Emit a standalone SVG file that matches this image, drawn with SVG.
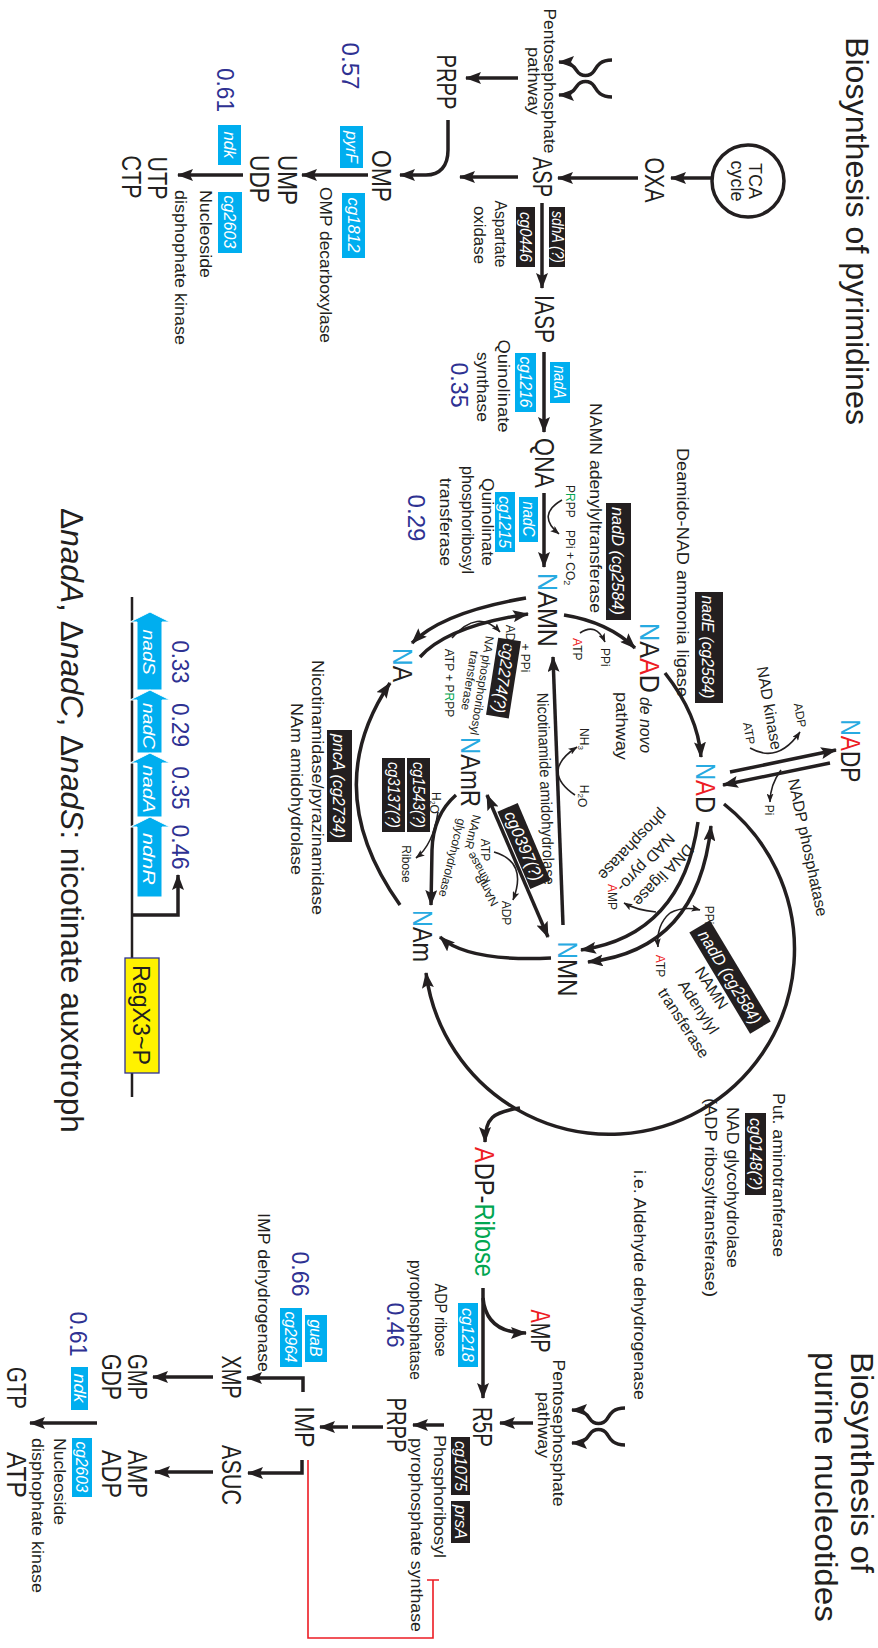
<svg xmlns="http://www.w3.org/2000/svg" width="878" height="1648" viewBox="0 0 878 1648">
<style>
text{font-family:"Liberation Sans",Arial,sans-serif;fill:#231F20;text-anchor:middle}
.m{font-size:27px}
.t{font-size:31px}
.l{font-size:16px}
.s{font-size:12px}
.b{font-size:17px;font-style:italic;fill:#fff}
.v{font-size:24px;fill:#2E3192}
.st{text-anchor:start}
.en{text-anchor:end}
.i{font-style:italic}
.nb{fill:#27AAE1}
.rd{fill:#ED1C24}
.gr{fill:#00A651}
.bx{fill:#231F20}
.cx{fill:#00AEEF}
.ln{fill:none;stroke:#231F20;stroke-width:3.5}
.lt{fill:none;stroke:#231F20;stroke-width:1.6}
</style>
<defs>
<marker id="a" viewBox="0 0 16 12" refX="15" refY="6" markerWidth="16" markerHeight="12" markerUnits="userSpaceOnUse" orient="auto-start-reverse"><path d="M0,0 L16,6 L0,12 L3,6 Z" fill="#231F20"/></marker>
<marker id="s" viewBox="0 0 9 7" refX="8.5" refY="3.5" markerWidth="9" markerHeight="7" markerUnits="userSpaceOnUse" orient="auto"><path d="M0,0 L9,3.5 L0,7 L2,3.5 Z" fill="#231F20"/></marker>
</defs>
<rect width="878" height="1648" fill="#fff"/>
<g transform="translate(878,0) rotate(90)">

<g id="titles">
<text class="t st" x="37" y="32" textLength="388" lengthAdjust="spacingAndGlyphs">Biosynthesis of pyrimidines</text>
<text class="t st" x="1352" y="27" textLength="221" lengthAdjust="spacingAndGlyphs">Biosynthesis of</text>
<text class="t st" x="1352" y="63" textLength="270" lengthAdjust="spacingAndGlyphs">purine nucleotides</text>
<text class="t st" x="508" y="817" textLength="625" lengthAdjust="spacingAndGlyphs">Δ<tspan class="i">nadA</tspan>, Δ<tspan class="i">nadC</tspan>, Δ<tspan class="i">nadS</tspan>: nicotinate auxotroph</text>
</g>

<g id="connectors">
<circle cx="181" cy="130" r="36" class="ln"/>
<path class="ln" marker-end="url(#a)" d="M178,166 L178,207"/>
<path class="ln" marker-end="url(#a)" d="M178,240 L178,320"/>
<path class="ln" marker-end="url(#a)" d="M177,360 L177,418"/>
<path class="ln" marker-end="url(#a)" d="M120,430 L150,430 C166,430 175,438 175,452 L175,478"/>
<path class="ln" marker-end="url(#a)" d="M60,266 C60,278 66,281 71,284 C77,288 77,297 71,301 C65,305 62,308 62,319"/>
<path class="ln" marker-end="url(#a)" d="M97,266 C97,278 91,281 86,284 C80,288 80,297 86,301 C92,305 95,308 95,319"/>
<path class="ln" marker-end="url(#a)" d="M78,360 L78,412"/>
<path class="ln" marker-end="url(#a)" d="M175,510 L175,576"/>
<path class="ln" marker-end="url(#a)" d="M175,635 L175,700"/>
<path class="ln" marker-end="url(#a)" d="M203,336 L288,336"/>
<path class="ln" marker-end="url(#a)" d="M352,334 L432,334"/>
<path class="ln" marker-end="url(#a)" d="M493,334 L567,334"/>
<path class="lt" marker-end="url(#s)" d="M500,316 Q515,342 534,319"/>
<path class="ln" marker-end="url(#a)" d="M615,314 Q622,270 648,243"/>
<path class="lt" marker-end="url(#s)" d="M633,298 Q622,282 642,273"/>
<path class="ln" marker-end="url(#a)" d="M673,213 Q715,180 757,177"/>
<path class="ln" marker-end="url(#a)" d="M772,148 L750,42"/>
<path class="ln" marker-end="url(#a)" d="M763,48 L785,155"/>
<path class="lt" marker-end="url(#s)" d="M748,128 Q764,100 732,78"/>
<path class="lt" marker-end="url(#s)" d="M770,97 Q785,108 802,108"/>
<path class="ln" marker-end="url(#a)" d="M598,352 Q612,435 643,466"/>
<path class="ln" marker-end="url(#a)" d="M657,458 Q626,430 614,350"/>
<path class="lt" marker-end="url(#s)" d="M638,426 Q608,400 632,378"/>
<path class="ln" marker-end="url(#a)" d="M925,315 L657,325"/>
<path class="lt" marker-end="url(#s)" d="M795,303 Q771,338 747,301"/>
<path class="ln" marker-start="url(#a)" marker-end="url(#a)" d="M795,391 L937,330"/>
<path class="lt" marker-end="url(#s)" d="M852,384 Q862,350 900,365"/>
<path class="ln" marker-end="url(#a)" d="M795,422 Q815,445 850,446 L905,447"/>
<path class="lt" marker-end="url(#s)" d="M812,440 Q845,445 858,462"/>
<path class="ln" marker-end="url(#a)" d="M958,327 Q962,410 937,438"/>
<path class="ln" marker-end="url(#a)" d="M905,478 Q790,560 683,488"/>
<path class="ln" marker-start="url(#a)" marker-end="url(#a)" d="M826,167 Q950,180 962,290"/>
<path class="ln" marker-end="url(#a)" d="M822,180 Q935,196 950,297"/>
<path class="lt" marker-end="url(#s)" d="M912,222 Q910,242 903,254"/>
<path class="lt" marker-end="url(#s)" d="M913,208 Q906,195 910,178"/>
<path class="lt" marker-end="url(#s)" d="M913,208 Q925,222 947,220"/>
<path class="ln" marker-end="url(#a)" d="M804,154 A185,185 0 1 1 973,452"/>
<path class="ln" marker-end="url(#a)" d="M1108,358 C1112,385 1118,393 1142,393"/>
<path class="ln" marker-end="url(#a)" d="M1288,395 L1398,395"/>
<path class="ln" marker-end="url(#a)" d="M1298,395 C1320,393 1333,380 1333,352"/>
<path class="ln" marker-end="url(#a)" d="M1408,253 C1408,265 1414,268 1419,271 C1425,275 1425,284 1419,288 C1413,292 1410,295 1410,306"/>
<path class="ln" marker-end="url(#a)" d="M1445,253 C1445,265 1439,268 1434,271 C1428,275 1428,284 1434,288 C1440,292 1443,295 1443,306"/>
<path class="ln" marker-end="url(#a)" d="M1423,345 L1423,378"/>
<path class="ln" marker-end="url(#a)" d="M1425,434 L1425,465"/>
<path class="ln" d="M1427,495 L1427,526"/>
<path class="ln" marker-end="url(#a)" d="M1427,530 L1427,558"/>
<path class="ln" marker-end="url(#a)" d="M1392,575 L1378,575 L1378,631"/>
<path class="ln" marker-end="url(#a)" d="M1460,576 L1473,576 L1473,630"/>
<path class="ln" marker-end="url(#a)" d="M1377,665 L1377,725"/>
<path class="ln" marker-end="url(#a)" d="M1472,665 L1472,723"/>
<path class="ln" marker-end="url(#a)" d="M1423,781 L1423,848"/>
<path d="M1460,570 L1638,570 L1638,445 L1580,445 M1580,439 L1580,451" fill="none" stroke="#ED1C24" stroke-width="1.6"/>
<path d="M597,746 L1097,746" fill="none" stroke="#231F20" stroke-width="2.5"/>
<path class="ln" stroke-width="4.5" marker-end="url(#a)" d="M915,746 L915,700 L875,700"/>
</g>

<g id="tca"><text x="181" y="129" font-size="18">TCA</text><text x="181" y="147" font-size="18">cycle</text></g>
<g id="oxa"><text class="m" x="180" y="233" font-size="30" textLength="45" lengthAdjust="spacingAndGlyphs">OXA</text></g>
<g id="asp"><text class="m" x="177" y="345" font-size="30" textLength="40" lengthAdjust="spacingAndGlyphs">ASP</text></g>
<g id="prpp1"><text class="m" x="82" y="441" textLength="55" lengthAdjust="spacingAndGlyphs">PRPP</text></g>
<g id="ppp1"><text class="l" x="81" y="334" textLength="145" lengthAdjust="spacingAndGlyphs">Pentosephosphate</text><text class="l" x="81" y="350" textLength="68" lengthAdjust="spacingAndGlyphs">pathway</text></g>
<g id="omp"><text class="m" x="176" y="506" textLength="52" lengthAdjust="spacingAndGlyphs">OMP</text></g>
<g id="ump"><text class="m" x="180" y="600" textLength="50" lengthAdjust="spacingAndGlyphs">UMP</text></g>
<g id="udp"><text class="m" x="179" y="628" textLength="48" lengthAdjust="spacingAndGlyphs">UDP</text></g>
<g id="utp"><text class="m" x="178" y="730" textLength="43" lengthAdjust="spacingAndGlyphs">UTP</text></g>
<g id="ctp"><text class="m" x="177" y="756" textLength="43" lengthAdjust="spacingAndGlyphs">CTP</text></g>
<g id="pyrf">
<text class="v" x="66" y="536" textLength="47" lengthAdjust="spacingAndGlyphs">0.57</text>
<rect x="126" y="515" width="42" height="23" class="cx"/><text class="b" x="147" y="532" textLength="32" lengthAdjust="spacingAndGlyphs">pyrF</text>
<rect x="193" y="513" width="65" height="23" class="cx"/><text class="b" x="225" y="530" textLength="55" lengthAdjust="spacingAndGlyphs">cg1812</text>
<text class="l st" x="187" y="558" textLength="156" lengthAdjust="spacingAndGlyphs">OMP decarboxylase</text>
</g>
<g id="ndk1">
<text class="v" x="90" y="661" textLength="44" lengthAdjust="spacingAndGlyphs">0.61</text>
<rect x="125" y="637" width="40" height="23" class="cx"/><text class="b" x="145" y="654" textLength="27" lengthAdjust="spacingAndGlyphs">ndk</text>
<rect x="192" y="636" width="61" height="24" class="cx"/><text class="b" x="222" y="654" textLength="53" lengthAdjust="spacingAndGlyphs">cg2603</text>
<text class="l st" x="190" y="678" textLength="88" lengthAdjust="spacingAndGlyphs">Nucleoside</text>
<text class="l st" x="190" y="703" textLength="155" lengthAdjust="spacingAndGlyphs">disphophate kinase</text>
</g>
<g id="sdha">
<rect x="207" y="313" width="60" height="16" class="bx"/><text class="b" x="237" y="326" font-size="14" textLength="52" lengthAdjust="spacingAndGlyphs">sdhA (?)</text>
<rect x="207" y="343" width="60" height="19" class="bx"/><text class="b" x="237" y="358" textLength="50" lengthAdjust="spacingAndGlyphs">cg0446</text>
<text class="l" x="234" y="383" textLength="67" lengthAdjust="spacingAndGlyphs">Aspartate</text>
<text class="l" x="235" y="404" textLength="58" lengthAdjust="spacingAndGlyphs">oxidase</text>
</g>
<g id="iasp"><text class="m" x="319" y="343" font-size="28" textLength="48" lengthAdjust="spacingAndGlyphs">IASP</text></g>
<g id="nada">
<rect x="362" y="308" width="41" height="20" class="cx"/><text class="b" x="382" y="324" textLength="33" lengthAdjust="spacingAndGlyphs">nadA</text>
<rect x="353" y="342" width="59" height="21" class="cx"/><text class="b" x="382" y="358" textLength="51" lengthAdjust="spacingAndGlyphs">cg1216</text>
<text class="l" x="386" y="380" textLength="93" lengthAdjust="spacingAndGlyphs">Quinolinate</text>
<text class="l" x="387" y="401" textLength="70" lengthAdjust="spacingAndGlyphs">synthase</text>
<text class="v" x="385" y="427" textLength="45" lengthAdjust="spacingAndGlyphs">0.35</text>
</g>
<g id="qna"><text class="m" x="463" y="343" font-size="28" textLength="50" lengthAdjust="spacingAndGlyphs">QNA</text></g>
<g id="nadc">
<text class="s st" x="485" y="312" font-size="13">P<tspan class="gr">R</tspan>PP</text>
<text class="s st" x="530" y="312" font-size="13">PPi + CO<tspan font-size="9" dy="2">2</tspan></text>
<rect x="497" y="340" width="45" height="19" class="cx"/><text class="b" x="519" y="355" textLength="35" lengthAdjust="spacingAndGlyphs">nadC</text>
<rect x="492" y="363" width="60" height="20" class="cx"/><text class="b" x="522" y="379" textLength="52" lengthAdjust="spacingAndGlyphs">cg1215</text>
<text class="l" x="522" y="396" font-size="15" textLength="88" lengthAdjust="spacingAndGlyphs">Quinolinate</text>
<text class="l" x="520" y="416" textLength="108" lengthAdjust="spacingAndGlyphs">phosphoribosyl</text>
<text class="l" x="522" y="438" textLength="88" lengthAdjust="spacingAndGlyphs">transferase</text>
<text class="v" x="518" y="470" textLength="47" lengthAdjust="spacingAndGlyphs">0.29</text>
</g>
<g id="nadd">
<text class="l st" x="403" y="288" textLength="210" lengthAdjust="spacingAndGlyphs">NAMN adenylyltransferase</text>
<rect x="503" y="247" width="117" height="25" class="bx"/><text class="b" x="561" y="266" font-size="18" textLength="108" lengthAdjust="spacingAndGlyphs">nadD (cg2584)</text>
</g>
<g id="nade">
<text class="l st" x="448" y="201" textLength="249" lengthAdjust="spacingAndGlyphs">Deamido-NAD ammonia ligase</text>
<rect x="592" y="155" width="111" height="28" class="bx"/><text class="b" x="647" y="176" font-size="19" textLength="103" lengthAdjust="spacingAndGlyphs">nadE (cg2584)</text>
</g>
<g id="namn"><text class="m" x="610" y="340" textLength="74" lengthAdjust="spacingAndGlyphs"><tspan class="nb">N</tspan>AMN</text>
<text class="s st" x="638" y="305" font-size="13"><tspan class="rd">A</tspan>TP</text>
<text class="s st" x="648" y="277" font-size="13">PPi</text></g>
<g id="naad"><text class="m" x="658" y="238" textLength="70" lengthAdjust="spacingAndGlyphs"><tspan class="nb">N</tspan>A<tspan class="rd">A</tspan>D</text>
<text class="l st i" x="697" y="238" font-size="17" textLength="56" lengthAdjust="spacingAndGlyphs">de novo</text>
<text class="l" x="726" y="262" font-size="17" textLength="68" lengthAdjust="spacingAndGlyphs">pathway</text></g>
<g id="nad"><text class="m" x="788" y="182" textLength="50" lengthAdjust="spacingAndGlyphs"><tspan class="nb">N</tspan><tspan class="rd">A</tspan>D</text></g>
<g id="nadp"><text class="m" x="751" y="37" textLength="63" lengthAdjust="spacingAndGlyphs"><tspan class="nb">N</tspan><tspan class="rd">A</tspan>DP</text></g>
<g id="nadk">
<text class="l" transform="translate(709,114) rotate(-10)" font-size="17">NAD kinase</text>
<text class="s" transform="translate(734,133) rotate(-10)">ATP</text>
<text class="s" transform="translate(716,82) rotate(-10)">ADP</text>
<text class="s" x="810" y="113">Pi</text>
<text class="l st" transform="translate(780,90) rotate(-12)" font-size="17">NADP phosphatase</text>
</g>
<g id="na"><text class="m" x="665" y="485" textLength="34" lengthAdjust="spacingAndGlyphs"><tspan class="nb">N</tspan>A</text></g>
<g id="nap">
<g transform="translate(678,375) rotate(9)"><rect x="-39" y="-12" width="78" height="23" class="bx"/><text class="b" y="5" font-size="16" textLength="70" lengthAdjust="spacingAndGlyphs">cg2274(?)</text></g>
<text class="s" transform="translate(685,400) rotate(9)" font-size="11">NA phosphoribosyl</text>
<text class="s" transform="translate(680,412) rotate(9)" font-size="11">transferase</text>
<text class="s" x="637" y="372">ADP</text>
<text class="s" x="658" y="357">+ PPi</text>
<text class="s" x="683" y="433">ATP + P<tspan class="gr">R</tspan>PP</text>
</g>
<g id="namr"><text class="m" x="772" y="417" textLength="70" lengthAdjust="spacingAndGlyphs"><tspan class="nb">N</tspan>AmR</text></g>
<g id="nicam">
<text class="l st" transform="rotate(-2,693,341)" x="693" y="341" font-size="15" textLength="192" lengthAdjust="spacingAndGlyphs">Nicotinamide amidohydrolase</text>
<text class="s" x="739" y="298">NH<tspan font-size="8" dy="2">3</tspan></text>
<text class="s" x="796" y="298">H<tspan font-size="8" dy="2">2</tspan>O</text>
</g>
<g id="namrk">
<g transform="translate(846,354) rotate(-23)"><rect x="-42" y="-11" width="84" height="22" class="bx"/><text class="b" y="6" font-size="16" textLength="74" lengthAdjust="spacingAndGlyphs">cg0397(?)</text></g>
<text class="s" x="850" y="397">ATP</text>
<text class="s" x="913" y="376">ADP</text>
<text class="s" transform="translate(866,396) rotate(150)" font-size="11">kinase</text>
<text class="s" transform="translate(888,388) rotate(150)" font-size="11">NAmR</text>
</g>
<g id="namrg">
<rect x="758" y="448" width="74" height="23" class="bx"/><text class="b" x="795" y="465" textLength="66" lengthAdjust="spacingAndGlyphs">cg1543(?)</text>
<rect x="758" y="473" width="74" height="23" class="bx"/><text class="b" x="795" y="490" textLength="66" lengthAdjust="spacingAndGlyphs">cg3137(?)</text>
<text class="s" x="803" y="446" font-size="10">H<tspan font-size="7" dy="2">2</tspan>O</text>
<text class="s" x="864" y="476" font-size="11">Ribose</text>
<text class="s st" transform="translate(814,405) rotate(14)" font-size="11">NAmR</text>
<text class="s st" transform="translate(818,420) rotate(14)" font-size="11">glycohydrolase</text>
</g>
<g id="nmn"><text class="m" x="969" y="320" textLength="55" lengthAdjust="spacingAndGlyphs"><tspan class="nb">N</tspan>MN</text></g>
<g id="nam"><text class="m" x="936" y="465" textLength="52" lengthAdjust="spacingAndGlyphs"><tspan class="nb">N</tspan>Am</text></g>
<g id="pnca">
<rect x="730" y="526" width="112" height="25" class="bx"/><text class="b" x="786" y="545" font-size="18" textLength="104" lengthAdjust="spacingAndGlyphs">pncA (cg2734)</text>
<text class="l st" x="660" y="566" textLength="255" lengthAdjust="spacingAndGlyphs">Nicotinamidase/pyrazinamidase</text>
<text class="l st" x="703" y="587" textLength="172" lengthAdjust="spacingAndGlyphs">NAm amidohydrolase</text>
</g>
<g id="ligase">
<text class="l en" transform="translate(900,246) rotate(44)" font-size="17">DNA ligase</text>
<text class="l en" transform="translate(886,262) rotate(44)" font-size="17">NAD pyro-</text>
<text class="l en" transform="translate(874,281) rotate(44)" font-size="17">phosphatase</text>
<text class="s" x="897" y="270" font-size="13"><tspan class="rd">A</tspan>MP</text>
<text class="s" x="915" y="173" font-size="13">PPi</text>
<text class="s" x="966" y="222" font-size="13"><tspan class="rd">A</tspan>TP</text>
<g transform="translate(977,148) rotate(-31)"><rect x="-59" y="-12" width="118" height="24" class="bx"/><text class="b" y="6" font-size="18" textLength="106" lengthAdjust="spacingAndGlyphs">nadD (cg2584)</text></g>
<text class="l" transform="translate(991,171) rotate(-33)" font-size="17">NAMN</text>
<text class="l" transform="translate(1010,184) rotate(-33)" font-size="17">Adenylyl</text>
<text class="l" transform="translate(1026,199) rotate(-33)" font-size="17">transferase</text>
</g>
<g id="glyco">
<text class="l st" x="1093" y="105" font-size="17" textLength="164" lengthAdjust="spacingAndGlyphs">Put. aminotranferase</text>
<rect x="1113" y="112" width="82" height="21" class="bx"/><text class="b" x="1154" y="128" textLength="72" lengthAdjust="spacingAndGlyphs">cg0148(?)</text>
<text class="l st" x="1107" y="151" font-size="17" textLength="161" lengthAdjust="spacingAndGlyphs">NAD glycohydrolase</text>
<text class="l st" x="1098" y="173" font-size="17" textLength="199" lengthAdjust="spacingAndGlyphs">(ADP ribosyltransferase)</text>
<text class="l st" x="1170" y="244" font-size="17" textLength="230" lengthAdjust="spacingAndGlyphs">i.e. Aldehyde dehydrogenase</text>
</g>
<g id="adpr"><text class="m" x="1212" y="403" textLength="130" lengthAdjust="spacingAndGlyphs"><tspan class="rd">A</tspan>DP-<tspan class="gr">Ribose</tspan></text></g>
<g id="amp1"><text class="m" x="1331" y="347" font-size="23" textLength="43" lengthAdjust="spacingAndGlyphs"><tspan class="rd">A</tspan>MP</text></g>
<g id="cg1218">
<rect x="1303" y="400" width="64" height="20" class="cx"/><text class="b" x="1335" y="416" textLength="54" lengthAdjust="spacingAndGlyphs">cg1218</text>
<text class="l" x="1320" y="443" textLength="73" lengthAdjust="spacingAndGlyphs">ADP ribose</text>
<text class="l" x="1320" y="468" textLength="120" lengthAdjust="spacingAndGlyphs">pyrophosphatase</text>
<text class="v" x="1325" y="491" textLength="45" lengthAdjust="spacingAndGlyphs">0.46</text>
</g>
<g id="ppp2"><text class="l" x="1433" y="325" textLength="147" lengthAdjust="spacingAndGlyphs">Pentosephosphate</text><text class="l" x="1425" y="340" textLength="66" lengthAdjust="spacingAndGlyphs">pathway</text></g>
<g id="r5p"><text class="m" x="1427" y="405" textLength="40" lengthAdjust="spacingAndGlyphs">R5P</text></g>
<g id="prsa">
<rect x="1437" y="408" width="58" height="19" class="bx"/><text class="b" x="1466" y="423" textLength="50" lengthAdjust="spacingAndGlyphs">cg1075</text>
<rect x="1501" y="408" width="42" height="19" class="bx"/><text class="b" x="1522" y="423" textLength="34" lengthAdjust="spacingAndGlyphs">prsA</text>
<text class="l st" x="1435" y="444" textLength="123" lengthAdjust="spacingAndGlyphs">Phosphoribosyl</text>
<text class="l st" x="1438" y="467" textLength="194" lengthAdjust="spacingAndGlyphs">pyrophosphate synthase</text>
</g>
<g id="prpp2"><text class="m" x="1425" y="491" textLength="55" lengthAdjust="spacingAndGlyphs">PRPP</text></g>
<g id="imp"><text class="m" x="1427" y="583" textLength="41" lengthAdjust="spacingAndGlyphs">IMP</text></g>
<g id="guab">
<text class="v" x="1274" y="586" textLength="45" lengthAdjust="spacingAndGlyphs">0.66</text>
<rect x="1315" y="551" width="47" height="22" class="cx"/><text class="b" x="1338" y="568" textLength="37" lengthAdjust="spacingAndGlyphs">guaB</text>
<rect x="1308" y="576" width="59" height="22" class="cx"/><text class="b" x="1337" y="593" textLength="51" lengthAdjust="spacingAndGlyphs">cg2964</text>
<text class="l st" x="1213" y="620" textLength="159" lengthAdjust="spacingAndGlyphs">IMP dehydrogenase</text>
</g>
<g id="xmp"><text class="m" x="1377" y="656" textLength="43" lengthAdjust="spacingAndGlyphs">XMP</text></g>
<g id="asuc"><text class="m" x="1475" y="656" textLength="60" lengthAdjust="spacingAndGlyphs">ASUC</text></g>
<g id="gmp"><text class="m" x="1377" y="750" textLength="46" lengthAdjust="spacingAndGlyphs">GMP</text><text class="m" x="1377" y="776" textLength="46" lengthAdjust="spacingAndGlyphs">GDP</text></g>
<g id="amp2"><text class="m" x="1474" y="750" textLength="48" lengthAdjust="spacingAndGlyphs">AMP</text><text class="m" x="1474" y="776" textLength="48" lengthAdjust="spacingAndGlyphs">ADP</text></g>
<g id="gtp"><text class="m" x="1388" y="871" textLength="42" lengthAdjust="spacingAndGlyphs">GTP</text></g>
<g id="atp"><text class="m" x="1475" y="871" textLength="46" lengthAdjust="spacingAndGlyphs">ATP</text></g>
<g id="ndk2">
<text class="v" x="1334" y="808" textLength="45" lengthAdjust="spacingAndGlyphs">0.61</text>
<rect x="1367" y="790" width="43" height="17" class="cx"/><text class="b" x="1388" y="804" font-size="15" textLength="29" lengthAdjust="spacingAndGlyphs">ndk</text>
<rect x="1438" y="786" width="59" height="20" class="cx"/><text class="b" x="1467" y="802" textLength="51" lengthAdjust="spacingAndGlyphs">cg2603</text>
<text class="l st" x="1438" y="824" textLength="87" lengthAdjust="spacingAndGlyphs">Nucleoside</text>
<text class="l st" x="1438" y="846" textLength="155" lengthAdjust="spacingAndGlyphs">disphophate kinase</text>
</g>
<g id="operon" stroke="#fff" stroke-width="1">
<path class="cx" d="M612,728 L622,708 L622,716 L690,716 L690,741 L622,741 L622,748 Z"/>
<path class="cx" d="M690,728 L700,708 L700,716 L753,716 L753,741 L700,741 L700,748 Z"/>
<path class="cx" d="M753,728 L763,708 L763,716 L817,716 L817,741 L763,741 L763,748 Z"/>
<path class="cx" d="M817,728 L827,708 L827,716 L897,716 L897,741 L827,741 L827,748 Z"/>
</g>
<g id="genes">
<text class="b" x="652" y="735" font-size="19" textLength="45" lengthAdjust="spacingAndGlyphs">nadS</text>
<text class="b" x="726" y="735" font-size="19" textLength="46" lengthAdjust="spacingAndGlyphs">nadC</text>
<text class="b" x="789" y="735" font-size="19" textLength="48" lengthAdjust="spacingAndGlyphs">nadA</text>
<text class="b" x="859" y="735" font-size="19" textLength="52" lengthAdjust="spacingAndGlyphs">ndnR</text>
<text class="v" x="662" y="706" textLength="43" lengthAdjust="spacingAndGlyphs">0.33</text>
<text class="v" x="725" y="706" textLength="44" lengthAdjust="spacingAndGlyphs">0.29</text>
<text class="v" x="788" y="706" textLength="43" lengthAdjust="spacingAndGlyphs">0.35</text>
<text class="v" x="847" y="706" textLength="45" lengthAdjust="spacingAndGlyphs">0.46</text>
</g>
<g id="regx3">
<rect x="958" y="719" width="115" height="34" fill="#FFF200" stroke="#2E3192" stroke-width="1.3"/>
<text x="1015" y="745" font-size="23" textLength="100" lengthAdjust="spacingAndGlyphs">RegX3~P</text>
</g>
</g>
</svg>
